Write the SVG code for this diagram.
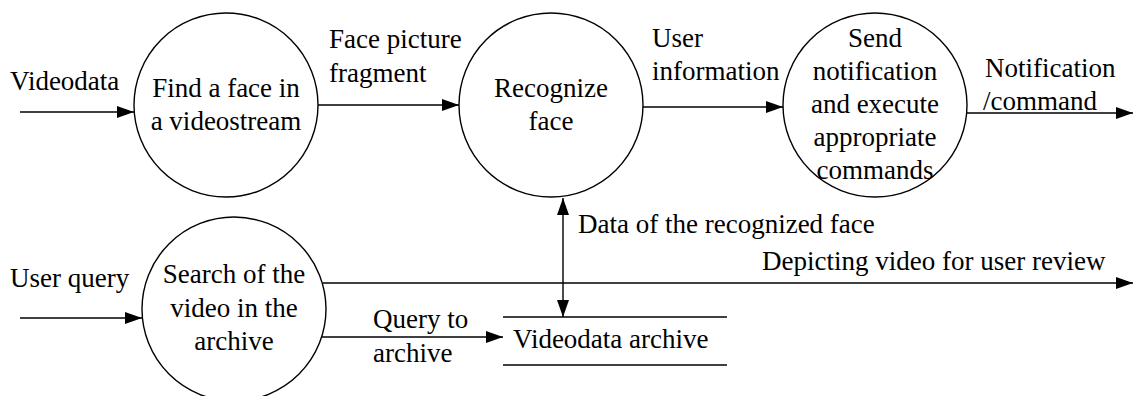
<svg xmlns="http://www.w3.org/2000/svg" width="1136" height="396" viewBox="0 0 1136 396">
  <style>
    text { font-family: 'Liberation Serif', 'Times New Roman', Times, serif; font-size: 27px; fill: #000; }
    .mid { text-anchor: middle; }
    .proc { fill: #fff; stroke: #000; stroke-width: 1.4; }
    .flow { fill: none; stroke: #000; stroke-width: 1.4; }
    .store { stroke: #000; stroke-width: 1.4; }
  </style>
  <defs>
    <marker id="arrow" markerWidth="17" markerHeight="12" refX="17" refY="6" orient="auto" markerUnits="userSpaceOnUse">
      <path d="M0,0 L17,6 L0,12 Z" fill="#000"/>
    </marker>
    <marker id="arrowStart" markerWidth="17" markerHeight="12" refX="0" refY="6" orient="auto" markerUnits="userSpaceOnUse">
      <path d="M17,0 L0,6 L17,12 Z" fill="#000"/>
    </marker>
  </defs>

  <!-- processes -->
  <g id="find-face">
    <circle class="proc" cx="226" cy="105" r="92"/>
    <text class="mid" x="226" y="97">Find a face in</text>
    <text class="mid" x="226" y="130">a videostream</text>
  </g>
  <g id="recognize-face">
    <circle class="proc" cx="551" cy="105" r="92"/>
    <text class="mid" x="551" y="97">Recognize</text>
    <text class="mid" x="551" y="130">face</text>
  </g>
  <g id="send-notification">
    <circle class="proc" cx="875" cy="105" r="92"/>
    <text class="mid" x="875" y="47">Send</text>
    <text class="mid" x="875" y="80">notification</text>
    <text class="mid" x="875" y="113">and execute</text>
    <text class="mid" x="875" y="146">appropriate</text>
    <text class="mid" x="875" y="179">commands</text>
  </g>
  <g id="search-archive">
    <circle class="proc" cx="234" cy="309" r="92"/>
    <text class="mid" x="234" y="283">Search of the</text>
    <text class="mid" x="234" y="317">video in the</text>
    <text class="mid" x="234" y="350">archive</text>
  </g>

  <!-- data store -->
  <g id="videodata-archive">
    <line class="store" x1="503" y1="317" x2="727" y2="317"/>
    <line class="store" x1="503" y1="365" x2="727" y2="365"/>
    <text x="513" y="348">Videodata archive</text>
  </g>

  <!-- data flows -->
  <g id="connectors">
    <line class="flow" x1="20" y1="112" x2="134" y2="112" marker-end="url(#arrow)"/>
    <text x="10" y="90">Videodata</text>

    <line class="flow" x1="318" y1="105" x2="459" y2="105" marker-end="url(#arrow)"/>
    <text x="329" y="48">Face picture</text>
    <text x="329" y="82">fragment</text>

    <line class="flow" x1="643" y1="107" x2="783" y2="107" marker-end="url(#arrow)"/>
    <text x="652" y="47">User</text>
    <text x="652" y="80">information</text>

    <line class="flow" x1="966" y1="113" x2="1133" y2="113" marker-end="url(#arrow)"/>
    <text x="985" y="77">Notification</text>
    <text x="983" y="110">/command</text>

    <line class="flow" x1="563" y1="198" x2="563" y2="317" marker-start="url(#arrowStart)" marker-end="url(#arrow)"/>
    <text x="578" y="233">Data of the recognized face</text>

    <line class="flow" x1="20" y1="318" x2="142" y2="318" marker-end="url(#arrow)"/>
    <text x="10" y="287">User query</text>

    <line class="flow" x1="323" y1="283" x2="1133" y2="283" marker-end="url(#arrow)"/>
    <text x="762" y="270">Depicting video for user review</text>

    <line class="flow" x1="322" y1="337" x2="503" y2="337" marker-end="url(#arrow)"/>
    <text x="373" y="328">Query to</text>
    <text x="373" y="362">archive</text>
  </g>
</svg>
